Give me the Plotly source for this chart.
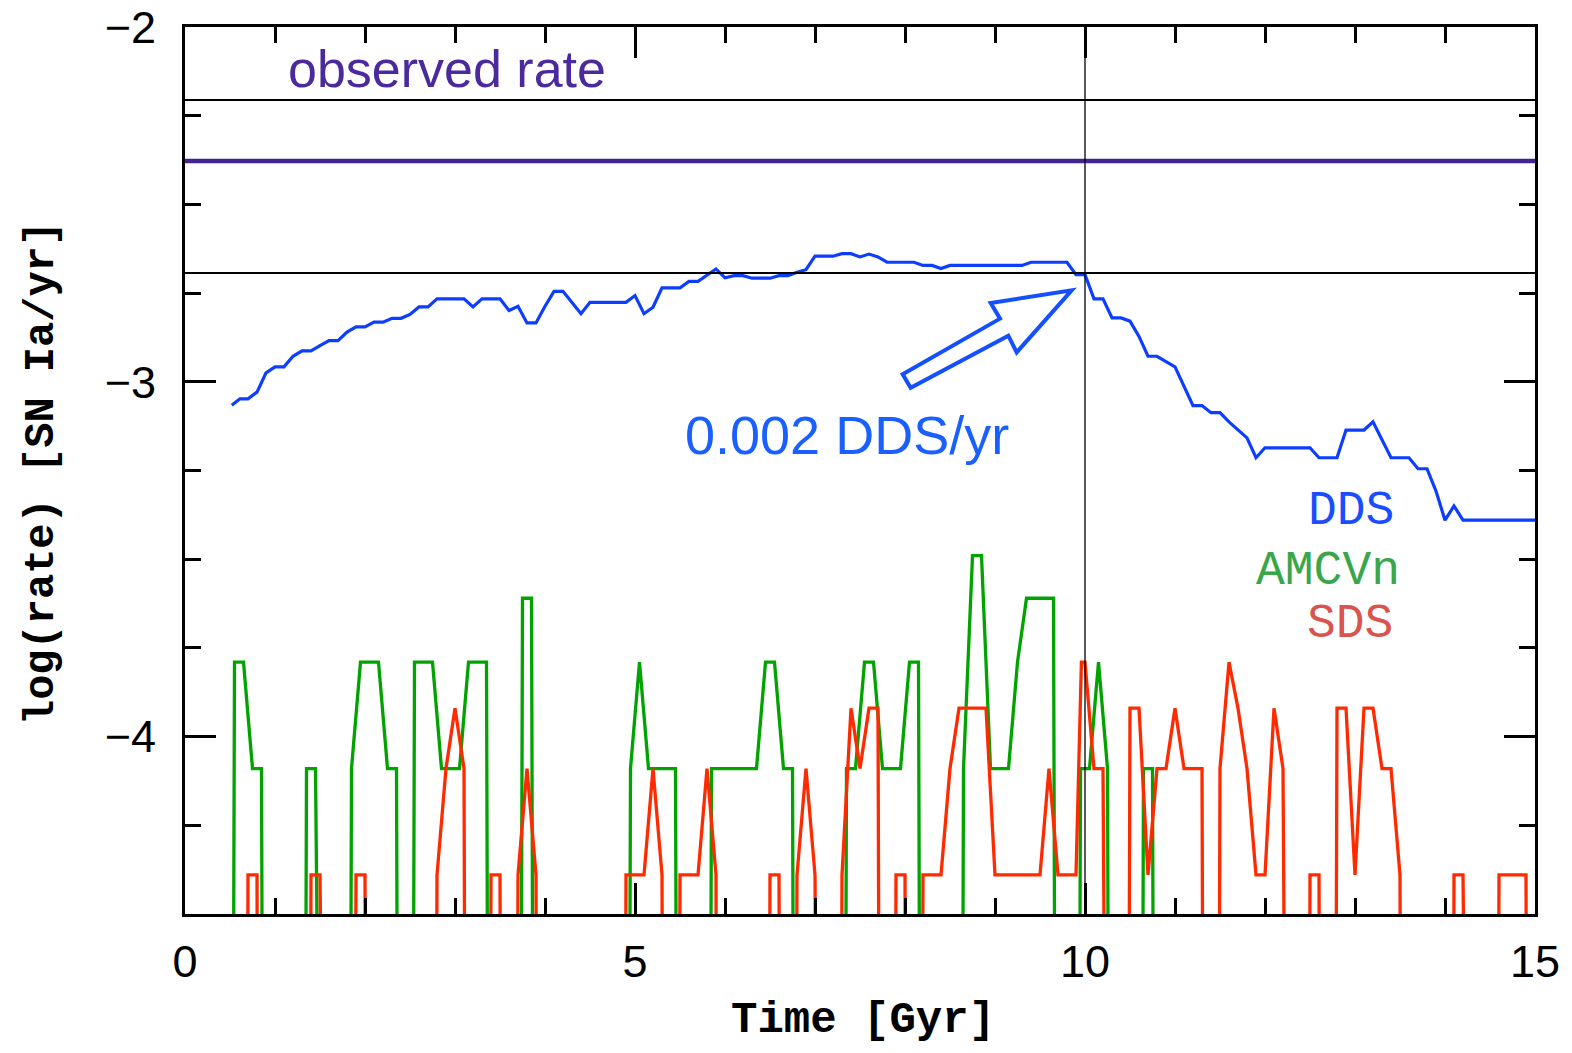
import plotly.graph_objects as go

# ---------------- data ----------------
# DDS: log10 rate [SN Ia / yr] versus time [Gyr]
dds_t = [0.52, 0.61, 0.70, 0.80, 0.90, 1.0, 1.1, 1.2, 1.3, 1.4, 1.5, 1.6, 1.7, 1.8, 1.9, 2.0,
         2.1, 2.2, 2.3, 2.4, 2.5, 2.6, 2.7, 2.8, 3.1, 3.2, 3.3, 3.5, 3.6, 3.7, 3.8, 3.9, 4.0,
         4.1, 4.2, 4.3, 4.4, 4.5, 4.9, 5.0, 5.1, 5.2, 5.3, 5.5, 5.6, 5.7, 5.9, 6.0, 6.1, 6.2,
         6.3, 6.5, 6.6, 6.7, 6.8, 6.9, 7.0, 7.2, 7.3, 7.4, 7.5, 7.6, 7.7, 7.8, 8.1, 8.2, 8.3,
         8.4, 8.5, 9.3, 9.4, 9.8, 9.9, 10.0, 10.1, 10.2, 10.3, 10.4, 10.5, 10.6, 10.7, 10.8,
         11.0, 11.2, 11.3, 11.4, 11.5, 11.6, 11.8, 11.9, 12.0, 12.5, 12.6, 12.8, 12.9, 13.1,
         13.2, 13.4, 13.6, 13.7, 13.8, 13.9, 14.0, 14.1, 14.2, 15.0]
dds_lograte = [-3.066, -3.048, -3.048, -3.029, -2.975, -2.958, -2.958, -2.928, -2.913, -2.913,
               -2.898, -2.884, -2.884, -2.860, -2.845, -2.845, -2.832, -2.832, -2.821, -2.821,
               -2.810, -2.789, -2.789, -2.766, -2.766, -2.789, -2.766, -2.766, -2.799, -2.787,
               -2.834, -2.834, -2.787, -2.745, -2.745, -2.776, -2.808, -2.776, -2.776, -2.757,
               -2.808, -2.790, -2.735, -2.735, -2.717, -2.717, -2.682, -2.707, -2.701, -2.701,
               -2.708, -2.708, -2.701, -2.701, -2.691, -2.684, -2.646, -2.646, -2.639, -2.639,
               -2.648, -2.640, -2.648, -2.663, -2.663, -2.672, -2.672, -2.681, -2.672, -2.672,
               -2.663, -2.663, -2.698, -2.698, -2.766, -2.766, -2.820, -2.820, -2.829, -2.872,
               -2.928, -2.928, -2.958, -3.067, -3.067, -3.087, -3.087, -3.113, -3.158, -3.214,
               -3.186, -3.186, -3.214, -3.214, -3.136, -3.136, -3.113, -3.214, -3.214, -3.245,
               -3.245, -3.308, -3.390, -3.350, -3.390, -3.390]

# AMCVn and SDS: log10 rate; NO_EVENTS marks bins with zero events (log of zero, below the axis)
NO_EVENTS = -12.0
amcvn_t = [0.45, 0.55, 0.65, 0.75, 0.85, 0.95,
           1.25, 1.35, 1.45, 1.55,
           1.75, 1.85, 1.95, 2.05, 2.15, 2.25, 2.35, 2.45, 2.55, 2.65, 2.75, 2.85, 2.95, 3.05,
           3.15, 3.25, 3.35, 3.45,
           3.65, 3.75, 3.85, 3.95,
           4.85, 4.95, 5.05, 5.15, 5.45, 5.55,
           5.75, 5.85, 6.35, 6.45, 6.55, 6.65, 6.75, 6.85,
           7.25, 7.35, 7.45, 7.55, 7.65, 7.75, 7.95, 8.05, 8.15, 8.25,
           8.55, 8.65, 8.75, 8.85, 8.95, 9.15, 9.25, 9.35, 9.65, 9.75,
           9.85, 9.95, 10.05, 10.15, 10.25, 10.35,
           10.55, 10.65, 10.75, 10.85]
amcvn_lograte = [NO_EVENTS, -3.79, -3.79, -4.09, -4.09, NO_EVENTS,
                 NO_EVENTS, -4.09, -4.09, NO_EVENTS,
                 NO_EVENTS, -4.09, -3.79, -3.79, -3.79, -4.09, -4.09, NO_EVENTS, -3.79, -3.79,
                 -3.79, -4.09, -4.09, -4.09, -3.79, -3.79, -3.79, NO_EVENTS,
                 NO_EVENTS, -3.61, -3.61, NO_EVENTS,
                 NO_EVENTS, -4.09, -3.79, -4.09, -4.09, NO_EVENTS,
                 NO_EVENTS, -4.09, -4.09, -3.79, -3.79, -4.09, -4.09, NO_EVENTS,
                 NO_EVENTS, -4.09, -4.09, -3.79, -3.79, -4.09, -4.09, -3.79, -3.79, NO_EVENTS,
                 NO_EVENTS, -4.09, -3.49, -3.49, -4.09, -4.09, -3.79, -3.61, -3.61, NO_EVENTS,
                 NO_EVENTS, -4.09, -4.09, -3.79, -4.09, NO_EVENTS,
                 NO_EVENTS, -4.09, -4.09, NO_EVENTS]

sds_t = [0.6, 0.7, 0.8, 0.9,
         1.3, 1.4, 1.5, 1.6,
         1.8, 1.9, 2.0, 2.1,
         2.7, 2.8, 2.9, 3.0, 3.1, 3.2,
         3.3, 3.4, 3.5, 3.6, 3.7, 3.8, 3.9, 4.0,
         4.8, 4.9, 5.1, 5.2, 5.3, 5.4, 5.5, 5.7, 5.8, 5.9, 6.0,
         6.4, 6.5, 6.6, 6.7, 6.8, 6.9, 7.0, 7.1,
         7.2, 7.3, 7.4, 7.5, 7.6, 7.7, 7.8, 7.9, 8.0, 8.1, 8.2, 8.4, 8.5, 8.6, 8.9, 9.0,
         9.5, 9.6, 9.7, 9.9, 9.96, 10.0, 10.1, 10.2, 10.3,
         10.4, 10.5, 10.6, 10.7, 10.8, 10.9, 11.0, 11.1, 11.3, 11.4, 11.5, 11.6, 11.7, 11.8,
         11.9, 12.0, 12.1, 12.2, 12.3,
         12.4, 12.5, 12.6, 12.7, 12.8, 12.9, 13.0, 13.1, 13.2, 13.3, 13.4, 13.5, 13.6,
         14.0, 14.1, 14.2, 14.3,
         14.5, 14.6, 14.9, 15.0]
sds_lograte = [NO_EVENTS, -4.39, -4.39, NO_EVENTS,
               NO_EVENTS, -4.39, -4.39, NO_EVENTS,
               NO_EVENTS, -4.39, -4.39, NO_EVENTS,
               NO_EVENTS, -4.39, -4.09, -3.92, -4.09, NO_EVENTS,
               NO_EVENTS, -4.39, -4.39, NO_EVENTS, -4.39, -4.09, -4.39, NO_EVENTS,
               NO_EVENTS, -4.39, -4.39, -4.09, -4.39, NO_EVENTS, -4.39, -4.39, -4.09, -4.39,
               NO_EVENTS,
               NO_EVENTS, -4.39, -4.39, NO_EVENTS, -4.39, -4.09, -4.39, NO_EVENTS,
               NO_EVENTS, -4.39, -3.92, -4.09, -3.92, -3.92, NO_EVENTS, -4.39, -4.39, NO_EVENTS,
               -4.39, -4.39, -4.09, -3.92, -3.92, -4.39,
               -4.39, -4.09, -4.39, -4.39, -3.79, -3.79, -4.09, -4.09, NO_EVENTS,
               NO_EVENTS, -3.92, -3.92, -4.39, -4.09, -4.09, -3.92, -4.09, -4.09, NO_EVENTS,
               -4.09, -3.79, -3.92, -4.09,
               -4.39, -4.39, -3.92, -4.09, NO_EVENTS,
               NO_EVENTS, -4.39, -4.39, NO_EVENTS, -3.92, -3.92, -4.39, -3.92, -3.92, -4.09,
               -4.09, -4.39, NO_EVENTS,
               NO_EVENTS, -4.39, -4.39, NO_EVENTS,
               NO_EVENTS, -4.39, -4.39, NO_EVENTS]

# reference levels (log10 rate)
observed_rate = -2.378
band_upper = -2.206
band_lower = -2.693      # 0.002 DDS/yr
marker_time = 10.0

# arrow outline (time, log rate), pointing at the 10 Gyr / 0.002 DDS/yr crossing
arrow_t = [7.974, 9.056, 8.952, 9.852, 9.241, 9.148, 8.063]
arrow_v = [-2.979, -2.822, -2.778, -2.742, -2.917, -2.870, -3.017]

# ---------------- figure ----------------
BLUE = "#0d3dff"
GREEN = "#00a300"
RED = "#ff2a00"
PURPLE = "#44228f"

fig = go.Figure()
fig.add_trace(go.Scatter(x=amcvn_t, y=amcvn_lograte, mode="lines",
                         line=dict(color=GREEN, width=3.3), name="AMCVn"))
fig.add_trace(go.Scatter(x=sds_t, y=sds_lograte, mode="lines",
                         line=dict(color=RED, width=3.3), name="SDS"))
fig.add_trace(go.Scatter(x=dds_t, y=dds_lograte, mode="lines",
                         line=dict(color=BLUE, width=3.2), name="DDS"))

# horizontal reference lines and vertical marker
fig.add_shape(type="line", xref="x", yref="y", x0=0, x1=15, y0=band_upper, y1=band_upper,
              line=dict(color="black", width=2))
fig.add_shape(type="line", xref="x", yref="y", x0=0, x1=15, y0=band_lower, y1=band_lower,
              line=dict(color="black", width=2))
fig.add_shape(type="line", xref="x", yref="y", x0=0, x1=15, y0=observed_rate, y1=observed_rate,
              line=dict(color=PURPLE, width=4.5))
fig.add_shape(type="line", xref="x", yref="paper", x0=marker_time, x1=marker_time, y0=0, y1=1,
              line=dict(color="black", width=1.3))

# hollow arrow
path = "M " + " L ".join(f"{t},{v}" for t, v in zip(arrow_t, arrow_v)) + " Z"
fig.add_shape(type="path", xref="x", yref="y", path=path,
              line=dict(color="#1450ff", width=4), fillcolor="white")

ann = []
ann.append(dict(text="observed rate", x=1.12, y=-2.118, xref="x", yref="y",
                xanchor="left", yanchor="middle", showarrow=False,
                font=dict(family="Liberation Sans", size=52, color="#4b2a9e")))
ann.append(dict(text="0.002 DDS/yr", x=5.53, y=-3.15, xref="x", yref="y",
                xanchor="left", yanchor="middle", showarrow=False,
                font=dict(family="Liberation Sans", size=54, color="#1a5fff")))
ann.append(dict(text="DDS", x=13.45, y=-3.365, xref="x", yref="y",
                xanchor="right", yanchor="middle", showarrow=False,
                font=dict(family="Liberation Mono", size=48, color="#1a4dff")))
ann.append(dict(text="AMCVn", x=13.52, y=-3.534, xref="x", yref="y",
                xanchor="right", yanchor="middle", showarrow=False,
                font=dict(family="Liberation Mono", size=48, color="#3aa64a")))
ann.append(dict(text="SDS", x=13.44, y=-3.682, xref="x", yref="y",
                xanchor="right", yanchor="middle", showarrow=False,
                font=dict(family="Liberation Mono", size=48, color="#d9534f")))
# axis titles
ann.append(dict(text="<b>Time [Gyr]</b>", x=0.502, y=-0.12, xref="paper", yref="paper",
                xanchor="center", yanchor="middle", showarrow=False,
                font=dict(family="Liberation Mono", size=44, color="black")))
ann.append(dict(text="<b>log(rate) [SN Ia/yr]</b>", x=-0.106, y=0.497, xref="paper", yref="paper",
                xanchor="center", yanchor="middle", showarrow=False, textangle=-90,
                font=dict(family="Liberation Mono", size=42, color="black")))

axis_common = dict(showline=True, linewidth=3, linecolor="black", mirror="allticks",
                   ticks="inside", ticklen=31, tickwidth=3, tickcolor="black",
                   showgrid=False, zeroline=False, automargin=False,
                   ticklabeloverflow="allow",
                   tickfont=dict(family="Liberation Sans", size=45, color="black"))

fig.update_layout(
    template="none",
    width=1572, height=1053, autosize=False,
    margin=dict(l=185, r=37, t=27, b=139),
    paper_bgcolor="white", plot_bgcolor="white",
    showlegend=False,
    annotations=ann,
    xaxis=dict(range=[0, 15], tick0=0, dtick=5,
               minor=dict(dtick=1, ticklen=16, tickwidth=3, tickcolor="black", ticks="inside"),
               ticklabelstandoff=6, **axis_common),
    yaxis=dict(range=[-4.5, -2], tick0=-2, dtick=1,
               minor=dict(dtick=0.25, ticklen=16, tickwidth=3, tickcolor="black", ticks="inside"),
               ticklabelstandoff=17, **axis_common),
)

# remove the browser's default 8 px page margin so the figure fills the window exactly
fig.write_html("out.html", config={"displayModeBar": False},
               post_script="document.body.style.margin='0px';")
